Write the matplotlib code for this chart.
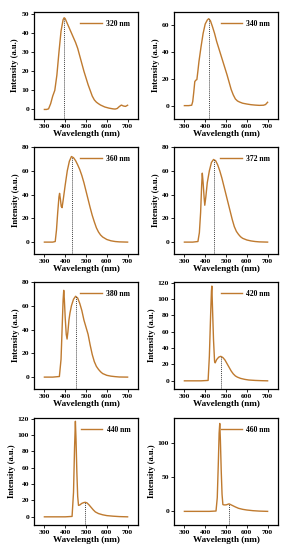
import matplotlib
matplotlib.use("Agg")
import matplotlib.pyplot as plt

plt.rcParams['font.family'] = ['Liberation Serif', 'DejaVu Serif']
plt.rcParams['font.weight'] = 'bold'

labels = ["320 nm", "340 nm", "360 nm", "372 nm", "380 nm", "420 nm", "440 nm", "460 nm"]

wl_320 = [300, 310, 320, 330, 340, 350, 360, 370, 380, 390, 395, 400, 410, 420, 430, 440, 450, 460, 470, 480,
          490, 500, 510, 520, 530, 540, 550, 560, 570, 580, 590, 600, 610, 620, 630, 640, 650, 660, 670, 680, 690, 700]
in_320 = [0, 0, 0.3, 3, 7, 10, 18, 30, 41, 47, 48, 47.5, 45, 42.5, 40, 37.5, 35, 32, 28, 24,
          20, 16.5, 13, 10, 7, 5, 3.8, 3, 2.3, 1.8, 1.3, 1, 0.7, 0.5, 0.3, 0.2, 0.5, 1.5, 2.3, 1.8, 1.6, 2.2]

wl_340 = [300, 320, 335, 340, 345, 350, 355, 360, 365, 370, 380, 390, 400, 410, 417, 425, 435, 445, 455, 465,
          475, 485, 495, 505, 515, 525, 535, 545, 555, 565, 580, 600, 620, 640, 660, 680, 690, 700]
in_340 = [0, 0, 0.3, 3, 10, 18, 19, 19.5, 26, 33, 44, 54, 61, 64, 65, 63.5, 59, 54, 48, 43,
          38, 33, 28, 23, 17.5, 12, 8, 5, 3.5, 2.7, 1.8, 1.2, 0.7, 0.4, 0.2, 0.3, 0.8, 2.5]

wl_360 = [300, 320, 340, 352, 358, 364, 370, 373, 377, 381, 385, 390, 400, 410, 420, 430, 440, 450, 460, 470,
          480, 490, 500, 510, 520, 530, 540, 550, 560, 570, 580, 600, 620, 640, 660, 700]
in_360 = [0, 0, 0, 0.5, 10, 25, 38, 41, 36, 30, 29, 35, 48, 60, 68, 72, 71, 68.5, 65, 61,
          56, 50, 43, 36, 29, 22.5, 17, 12, 8.5, 6, 4.3, 2.2, 1.1, 0.5, 0.2, 0]

wl_372 = [300, 340, 365, 372, 378, 383, 386, 390, 395, 398, 403, 410, 420, 430, 440, 450, 460, 470, 480, 490,
          500, 510, 520, 530, 540, 550, 560, 570, 580, 600, 620, 640, 660, 700]
in_372 = [0, 0, 0.5, 8, 25, 48, 58, 50, 37, 31, 38, 50, 60, 67, 69.5, 68.5, 65, 60, 54, 47,
          40, 33, 26, 19, 13, 9, 6.5, 4.5, 3.2, 1.8, 1, 0.5, 0.2, 0]

wl_380 = [300, 340, 372, 380, 386, 390, 393, 396, 400, 405, 409, 413, 418, 423, 430, 440, 450, 460, 470, 480,
          490, 500, 510, 520, 530, 540, 550, 560, 570, 580, 600, 620, 640, 660, 700]
in_380 = [0, 0, 0.5, 15, 45, 65, 73, 65, 50, 36, 32, 38, 48, 54, 60, 65.5, 68, 66.5, 62, 56,
          48, 42, 36, 27, 19, 13, 9, 6.5, 4.5, 3, 1.5, 0.8, 0.4, 0.1, 0]

wl_420 = [300, 380, 414, 420, 426, 430, 432, 435, 440, 445, 448, 455, 465, 475, 485, 495, 505, 515, 525, 535,
          545, 555, 570, 590, 610, 640, 670, 700]
in_420 = [0, 0, 0.5, 30, 80, 110, 116, 90, 50, 24, 22, 26, 29, 30, 28.5, 25.5, 21, 16.5, 12, 8.5,
          6, 4.5, 3, 1.8, 1, 0.5, 0.2, 0]

wl_440 = [300, 400, 433, 440, 445, 449, 452, 456, 460, 464, 470, 480, 490, 497, 505, 515, 525, 535, 545, 560,
          580, 600, 630, 660, 700]
in_440 = [0, 0, 0.5, 30, 85, 117, 95, 55, 25, 14, 14.5, 16.5, 17.5, 17.8, 17, 14.5, 11.5, 8.5, 6, 4,
          2.5, 1.5, 0.8, 0.3, 0]

wl_460 = [300, 420, 452, 458, 463, 467, 470, 473, 477, 481, 485, 490, 500, 510, 515, 525, 535, 545, 560, 580,
          600, 630, 660, 700]
in_460 = [0, 0, 0.5, 20, 70, 115, 129, 105, 60, 25, 10, 9.5, 9.5, 10.5, 11, 9.5, 8, 6.5, 4.5, 3,
          2, 1, 0.4, 0]

peak_wl = [395, 417, 431, 441, 450, 475, 497, 514]
peak_int = [48, 65, 72, 69.5, 68, 30, 17.8, 11]

y_limits = [(-5, 51), (-10, 70), (-10, 80), (-10, 80), (-10, 80), (-10, 121), (-10, 121), (-20, 137)]
y_ticks = [[0, 10, 20, 30, 40, 50], [0, 20, 40, 60], [0, 20, 40, 60, 80], [0, 20, 40, 60, 80],
           [0, 20, 40, 60, 80], [0, 20, 40, 60, 80, 100, 120], [0, 20, 40, 60, 80, 100, 120], [0, 50, 100]]
x_ticks = [300, 400, 500, 600, 700]

series = [(wl_320, in_320), (wl_340, in_340), (wl_360, in_360), (wl_372, in_372),
          (wl_380, in_380), (wl_420, in_420), (wl_440, in_440), (wl_460, in_460)]

color = '#bf7a2f'

fig = plt.figure(figsize=(2.92, 5.5), dpi=100)
row_tops = [12, 147, 282, 418]
row_h = 107
col_lefts = [34, 174]
col_w = 104
W, H = 292, 550

for i, (wl, val) in enumerate(series):
    r, c = divmod(i, 2)
    left = col_lefts[c] / W
    bottom = 1 - (row_tops[r] + row_h) / H
    ax = fig.add_axes([left, bottom, col_w / W, row_h / H])
    ax.plot(wl, val, color=color, lw=1.0, label=labels[i])
    ylo, yhi = y_limits[i]
    ax.plot([peak_wl[i], peak_wl[i]], [ylo, peak_int[i]], color='#444444', lw=0.7, ls=(0, (1, 1)))
    ax.set_xlim(250, 750)
    ax.set_ylim(ylo, yhi)
    ax.set_xticks(x_ticks)
    ax.set_yticks(y_ticks[i])
    ax.tick_params(direction='out', length=2, width=0.6, labelsize=5.4, pad=1.5)
    for lab in ax.get_xticklabels() + ax.get_yticklabels():
        lab.set_fontweight('bold')
    for s in ax.spines.values():
        s.set_linewidth(0.9)
    ax.set_xlabel('Wavelength (nm)', fontsize=6.6, fontweight='bold', labelpad=1)
    ax.set_ylabel('Intensity (a.u.)', fontsize=6.2, fontweight='bold', labelpad=1.5)
    ax.legend(loc='upper right', frameon=False, handlelength=2.8,
              handletextpad=0.6, borderaxespad=0.6, prop={'weight': 'bold', 'size': 5.5})

fig.savefig('out.png', dpi=100)
